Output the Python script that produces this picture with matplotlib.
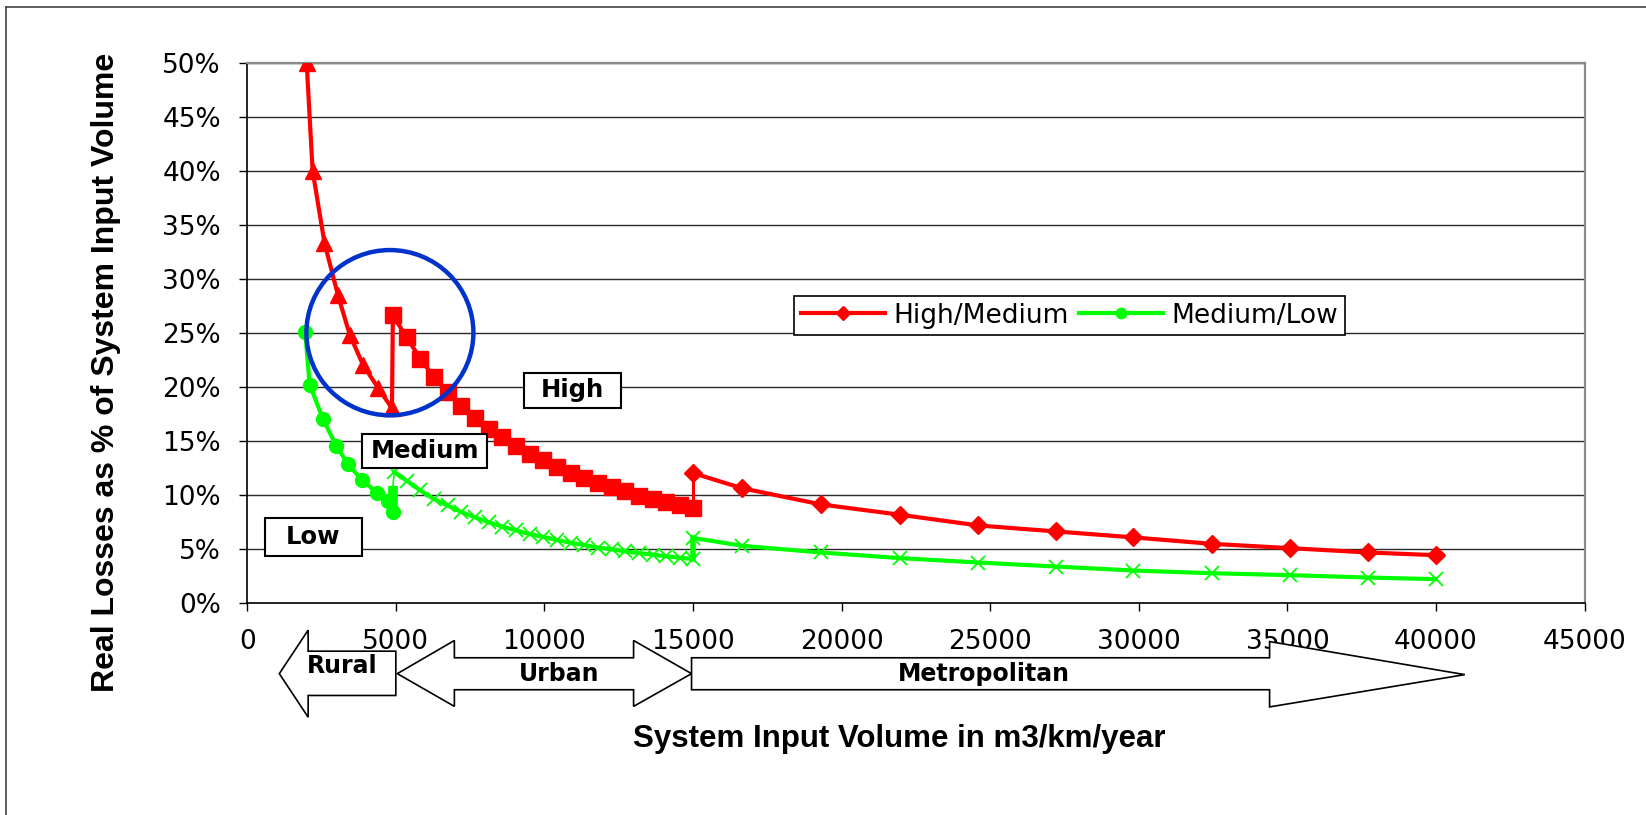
import matplotlib
matplotlib.use("Agg")
import matplotlib.pyplot as plt
from matplotlib.patches import Ellipse, Rectangle, Polygon
from matplotlib.lines import Line2D
from matplotlib.ticker import FuncFormatter, MultipleLocator

# High/Medium boundary (red) in three pieces
tri_x = [2000, 2200, 2600, 3050, 3450, 3900, 4400, 4870]
tri_y = [50.0, 40.0, 33.3, 28.5, 24.8, 22.0, 19.9, 18.0]

sq_x = [4900, 5360, 5820, 6280, 6740, 7200, 7660, 8120, 8580, 9040, 9500, 9960,
        10420, 10880, 11340, 11800, 12260, 12720, 13180, 13640, 14100, 14560, 15000]
sq_y = [26.6, 24.6, 22.6, 20.9, 19.5, 18.2, 17.1, 16.1, 15.3, 14.5, 13.8, 13.2,
        12.6, 12.0, 11.5, 11.1, 10.7, 10.3, 9.9, 9.6, 9.3, 9.0, 8.8]

dia_x = [15000, 16650, 19300, 21950, 24600, 27200, 29800, 32450, 35100, 37700, 40000]
dia_y = [12.0, 10.6, 9.1, 8.15, 7.15, 6.6, 6.05, 5.45, 5.05, 4.65, 4.4]

# Medium/Low boundary (green)
dot_x = [1950, 2100, 2550, 3000, 3400, 3850, 4350, 4750, 4900]
dot_y = [25.1, 20.2, 17.0, 14.5, 12.8, 11.4, 10.2, 9.4, 8.4]
jump_y = [8.1, 10.8]  # thick green bar at the 5000 step

cross_x = [4950, 5360, 5820, 6280, 6740, 7200, 7660, 8120, 8580, 9040, 9500, 9960,
           10420, 10880, 11340, 11800, 12260, 12720, 13180, 13640, 14100, 14560, 15000]
cross_y = [12.1, 11.3, 10.4, 9.6, 9.0, 8.4, 7.9, 7.45, 7.05, 6.7, 6.35, 6.1,
           5.8, 5.55, 5.35, 5.1, 4.95, 4.75, 4.6, 4.45, 4.3, 4.15, 4.05]

cross2_x = [15000, 16650, 19300, 21950, 24600, 27200, 29800, 32450, 35100, 37700, 40000]
cross2_y = [6.0, 5.27, 4.65, 4.13, 3.72, 3.35, 2.98, 2.73, 2.55, 2.33, 2.18]

zone_names = ["Low", "Medium", "High"]
area_names = ["Rural", "Urban", "Metropolitan"]

red = "#ff0000"
green = "#00ff00"
lw = 3.0

fig = plt.figure(figsize=(16.46, 8.15), dpi=100)
ax = fig.add_axes([0.1502, 0.2605, 0.8125, 0.6626])
ax.set_xlim(0, 45000)
ax.set_ylim(0, 50)
ax.xaxis.set_major_locator(MultipleLocator(5000))
ax.yaxis.set_major_locator(MultipleLocator(5))
ax.yaxis.set_major_formatter(FuncFormatter(lambda v, p: f"{v:.0f}%"))
ax.grid(axis="y", color="#2a2a2a", lw=1.0)
ax.set_axisbelow(True)
ax.tick_params(length=6, width=1, pad=13, labelsize=19, direction="out")
for s in ["left", "bottom"]:
    ax.spines[s].set_color("black")
    ax.spines[s].set_linewidth(1.2)
for s in ["top", "right"]:
    ax.spines[s].set_color("#8a8a8a")
    ax.spines[s].set_linewidth(1.6)

# red curve
ax.plot(tri_x, tri_y, color=red, lw=lw, marker="^", ms=12, zorder=3)
ax.plot([tri_x[-1], sq_x[0]], [tri_y[-1], sq_y[0]], color=red, lw=lw, zorder=3)
ax.plot(sq_x, sq_y, color=red, lw=lw, marker="s", ms=12, zorder=3)
ax.plot([sq_x[-1], dia_x[0]], [sq_y[-1], dia_y[0]], color=red, lw=2.2, zorder=3)
hm, = ax.plot(dia_x, dia_y, color=red, lw=lw, marker="D", ms=9, zorder=3,
              label="High/Medium")

# green curve
ml, = ax.plot(dot_x, dot_y, color=green, lw=lw, marker="o", ms=10, zorder=3,
              label="Medium/Low")
ax.plot([dot_x[-1], dot_x[-1]], jump_y, color=green, lw=7, solid_capstyle="butt", zorder=3)
ax.plot([dot_x[-1], cross_x[0]], [jump_y[-1], cross_y[0]], color=green, lw=1.2, zorder=3)
ax.plot(cross_x, cross_y, color=green, lw=lw, marker="x", ms=10, mew=1.3, zorder=3)
ax.plot([cross_x[-1], cross2_x[0]], [cross_y[-1], cross2_y[0]], color=green, lw=4, zorder=3)
ax.plot(cross2_x, cross2_y, color=green, lw=lw, marker="x", ms=10, mew=1.3, zorder=3)

leg = ax.legend(handles=[hm, ml], loc="upper left", bbox_to_anchor=(18400 / 45000, 28.4 / 50),
                ncol=2, fancybox=False, edgecolor="black", framealpha=1, fontsize=19,
                handlelength=3.2, handletextpad=0.3, columnspacing=0.4, borderpad=0.25,
                borderaxespad=0, markerscale=0.75)
leg.get_frame().set_linewidth(1.2)

# blue highlight circle
ax.add_patch(Ellipse((4800, 25.0), 5620, 15.3, fill=False, ec="#0033cc", lw=3.2,
                     zorder=4, clip_on=False))

# zone label boxes
zone_boxes = [(600, 4.34, 3250, 3.5), (3850, 12.5, 4230, 3.1), (9320, 18.0, 3250, 3.3)]
for name, (x0, y0, w, h) in zip(zone_names, zone_boxes):
    ax.add_patch(Rectangle((x0, y0), w, h, fc="white", ec="black", lw=1.5, zorder=5))
    ax.text(x0 + w / 2, y0 + h / 2, name, ha="center", va="center", fontsize=17.5,
            fontweight="bold", zorder=6)

# area arrows under the axis
arrows = [
    [(1080, -6.57), (2050, -2.54), (2050, -4.49), (5000, -4.49), (5000, -8.59),
     (2050, -8.59), (2050, -10.6)],
    [(5050, -6.57), (6970, -3.5), (6970, -5.1), (13000, -5.1), (13000, -3.5),
     (14950, -6.57), (13000, -9.6), (13000, -8.06), (6970, -8.06), (6970, -9.6)],
    [(14950, -5.1), (34400, -5.1), (34400, -3.6), (40970, -6.66), (34400, -9.65),
     (34400, -8.06), (14950, -8.06)],
]
label_pos = [(3200, -5.9), (10500, -6.57), (24800, -6.57)]
for pts, name, (tx, ty) in zip(arrows, area_names, label_pos):
    ax.add_patch(Polygon(pts, closed=True, fc="white", ec="black", lw=1.2, clip_on=False))
    ax.text(tx, ty, name, ha="center", va="center", fontsize=17, fontweight="bold",
            clip_on=False)

fig.text(899 / 1646, 1 - 747 / 815, "System Input Volume in m3/km/year", ha="center",
         va="baseline", fontsize=22.5, fontweight="bold", family=["Liberation Sans", "DejaVu Sans"])
fig.text(114 / 1646, 1 - 372 / 815, "Real Losses as % of System Input Volume", rotation=90,
         rotation_mode="anchor", ha="center", va="baseline", fontsize=23, fontweight="bold",
         family=["Liberation Sans", "DejaVu Sans"])

# outer frame (top and left edges only)
fig.add_artist(Line2D([6 / 1646, 1], [1 - 7 / 815, 1 - 7 / 815], color="#444444", lw=1.2,
                      transform=fig.transFigure))
fig.add_artist(Line2D([6 / 1646, 6 / 1646], [0, 1 - 7 / 815], color="#444444", lw=1.2,
                      transform=fig.transFigure))

fig.savefig("out.png", dpi=100)
